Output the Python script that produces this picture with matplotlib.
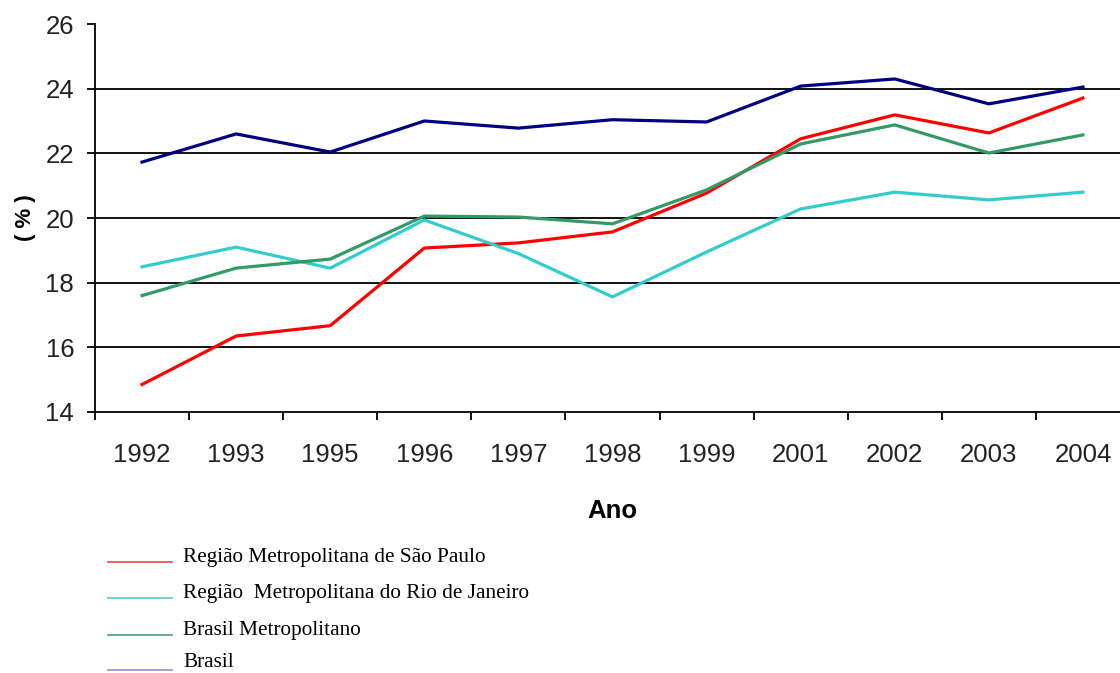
import matplotlib
matplotlib.use("Agg")
import matplotlib.pyplot as plt
from matplotlib.lines import Line2D

years = ["1992", "1993", "1995", "1996", "1997", "1998", "1999", "2001", "2002", "2003", "2004"]
sao_paulo = [14.85, 16.35, 16.67, 19.07, 19.23, 19.57, 20.77, 22.45, 23.19, 22.63, 23.71]
rio = [18.49, 19.10, 18.45, 19.94, 18.90, 17.56, 18.95, 20.28, 20.80, 20.56, 20.80]
brasil_metro = [17.60, 18.45, 18.73, 20.06, 20.03, 19.82, 20.87, 22.29, 22.88, 22.01, 22.57]
brasil = [21.73, 22.60, 22.04, 23.00, 22.78, 23.04, 22.97, 24.08, 24.30, 23.53, 24.05]
y_ticks = [14, 16, 18, 20, 22, 24, 26]
grid_levels = [16, 18, 20, 22, 24]

series_labels = ["Região Metropolitana de São Paulo",
                 "Região  Metropolitana do Rio de Janeiro",
                 "Brasil Metropolitano",
                 "Brasil"]

sans = ["Liberation Sans", "DejaVu Sans"]
serif = ["Liberation Serif", "DejaVu Serif"]
tick_size = 18.5

W, H = 1120, 673
fig = plt.figure(figsize=(W / 100, H / 100), dpi=100)
ax = fig.add_axes([95 / W, (H - 412) / H, 1035 / W, 388 / H])

x = list(range(len(years)))
for lvl in grid_levels:
    ax.axhline(lvl, color="black", lw=1.3, zorder=1)

ax.plot(x, sao_paulo, color="#ff0000", lw=2.3, zorder=3)
ax.plot(x, rio, color="#33cccc", lw=2.3, zorder=3)
ax.plot(x, brasil_metro, color="#339966", lw=2.3, zorder=3)
ax.plot(x, brasil, color="#000080", lw=2.3, zorder=3)

ax.set_xlim(-0.5, len(years) - 0.5)
ax.set_ylim(14, 26)
ax.spines["top"].set_visible(False)
ax.spines["right"].set_visible(False)
for s in ("left", "bottom"):
    ax.spines[s].set_linewidth(1.3)

ax.set_yticks(y_ticks)
ax.set_yticklabels([str(v) for v in y_ticks], family=sans, fontsize=tick_size, color="#222222")
ax.tick_params(axis="y", direction="out", length=6, width=1.3, pad=9)

ax.set_xticks([i - 0.5 for i in range(len(years) + 1)])
ax.set_xticklabels([])
ax.tick_params(axis="x", which="major", direction="out", length=6, width=1.3)
ax.set_xticks(x, minor=True)
ax.set_xticklabels(years, minor=True, family=sans, fontsize=tick_size, color="#222222")
ax.tick_params(axis="x", which="minor", length=0, pad=22)

ax.set_xlabel("Ano", family=sans, fontsize=tick_size, fontweight="bold", labelpad=23)
fig.text(26 / W, 1 - 218 / H, "( % )", rotation=90, ha="center", va="center",
         family=sans, fontsize=tick_size - 2.5, fontweight="bold")

legend_colors = ["#ee5555", "#66cccc", "#55aa77", "#9999cc"]
line_rows = [562, 598, 635, 670]
text_rows = [562, 598, 635, 667]
for lab, col, ly, ty in zip(series_labels, legend_colors, line_rows, text_rows):
    fig.add_artist(Line2D([108 / W, 172 / W], [1 - ly / H, 1 - ly / H],
                          transform=fig.transFigure, color=col, lw=1.3))
    fig.text(183 / W, 1 - ty / H, lab, family=serif, fontsize=15.3,
             ha="left", va="baseline", color="black")

fig.savefig("out.png", dpi=100)
